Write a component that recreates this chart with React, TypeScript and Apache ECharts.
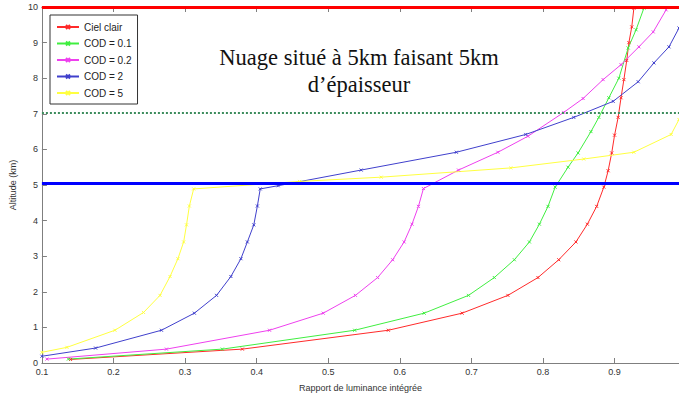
import React, { useEffect, useRef } from "react";
import * as echarts from "echarts";

const seriesNames = ["Ciel clair", "COD = 0.1", "COD = 0.2", "COD = 2", "COD = 5"];

const cielClair: number[][] = [
  [0.14, 0.1], [0.38, 0.39], [0.584, 0.92], [0.687, 1.4], [0.751, 1.9], [0.793, 2.4],
  [0.822, 2.9], [0.846, 3.4], [0.862, 3.9], [0.875, 4.4], [0.885, 4.94], [0.891, 5.4],
  [0.896, 5.9], [0.9, 6.4], [0.905, 6.9], [0.909, 7.45], [0.913, 7.96], [0.917, 8.5],
  [0.92, 9.0], [0.924, 9.44], [0.927, 9.97],
];
const cod01: number[][] = [
  [0.137, 0.11], [0.352, 0.39], [0.537, 0.92], [0.634, 1.4], [0.696, 1.9], [0.732, 2.4],
  [0.76, 2.9], [0.781, 3.4], [0.795, 3.9], [0.807, 4.4], [0.817, 4.94], [0.835, 5.5],
  [0.849, 5.9], [0.867, 6.5], [0.878, 6.9], [0.892, 7.45], [0.906, 8.0], [0.919, 8.85],
  [0.93, 9.36], [0.941, 9.97],
];
const cod02: number[][] = [
  [0.107, 0.11], [0.274, 0.39], [0.418, 0.92], [0.493, 1.4], [0.538, 1.9], [0.569, 2.4],
  [0.59, 2.9], [0.606, 3.4], [0.617, 3.9], [0.626, 4.4], [0.633, 4.9], [0.682, 5.42],
  [0.737, 5.92], [0.779, 6.37], [0.829, 7.04], [0.856, 7.43], [0.884, 7.96], [0.909, 8.38],
  [0.934, 8.88], [0.954, 9.3], [0.972, 9.92],
];
const cod2: number[][] = [
  [0.1, 0.19], [0.175, 0.42], [0.267, 0.92], [0.313, 1.4], [0.344, 1.9], [0.364, 2.43],
  [0.378, 2.93], [0.387, 3.4], [0.396, 3.88], [0.401, 4.41], [0.405, 4.89], [0.43, 4.98],
  [0.546, 5.42], [0.679, 5.92], [0.776, 6.42], [0.843, 6.9], [0.898, 7.35], [0.933, 7.9],
  [0.955, 8.43], [0.976, 8.88], [0.99, 9.41],
];
const cod5: number[][] = [
  [0.1, 0.3], [0.135, 0.44], [0.202, 0.92], [0.242, 1.42], [0.265, 1.9], [0.279, 2.43],
  [0.29, 2.93], [0.298, 3.4], [0.302, 3.88], [0.306, 4.41], [0.312, 4.89], [0.46, 5.1],
  [0.574, 5.22], [0.755, 5.48], [0.857, 5.73], [0.927, 5.92], [0.979, 6.42], [0.99, 6.84],
];

const refAltitudes = [10, 5.05, 7.04];
const refColors = ["#ff0000", "#0000ff", "#3c8c5c"];
const refTypes = ["solid", "solid", "dotted"];
const refWidths = [3, 3, 2];

const curveData = [cielClair, cod01, cod02, cod2, cod5];
const curveColors = ["#ff2a2a", "#40ee40", "#ee40ee", "#4040cc", "#ffff40"];

const titleLines = ["Nuage situé à 5km faisant 5km", "d’épaisseur"];

const markerPath = "path://M0,0L10,10M10,0L0,10";

export default function App() {
  const ref = useRef<HTMLDivElement>(null);
  useEffect(() => {
    if (!ref.current) return;
    const chart = echarts.init(ref.current, undefined, { renderer: "svg" });
    const font = "'Liberation Sans', Arial, sans-serif";
    const serif = "'Liberation Serif', 'Times New Roman', serif";
    const series: any[] = curveData.map((d, i) => ({
      name: seriesNames[i],
      type: "line",
      data: d,
      symbol: markerPath,
      symbolSize: 3,
      showSymbol: true,
      lineStyle: { color: curveColors[i], width: 1 },
      itemStyle: { color: curveColors[i], borderColor: curveColors[i], borderWidth: 1 },
      z: 2,
    }));
    series.push({
      name: "refs",
      type: "line",
      data: [],
      z: 5,
      markLine: {
        silent: true,
        symbol: "none",
        label: { show: false },
        animation: false,
        data: refAltitudes.map((v, i) => ({
          yAxis: v,
          lineStyle: { color: refColors[i], width: refWidths[i], type: refTypes[i] },
        })),
      },
    });
    chart.setOption({
      animation: false,
      backgroundColor: "#ffffff",
      grid: { left: 40, right: 0, top: 7, bottom: 32, containLabel: false },
      legend: {
        data: seriesNames,
        orient: "vertical",
        left: 50,
        top: 15,
        padding: [7, 6, 6, 6],
        itemWidth: 22,
        itemHeight: 5,
        itemGap: 6.5,
        borderColor: "#333333",
        borderWidth: 1,
        backgroundColor: "#ffffff",
        textStyle: { fontFamily: font, fontSize: 10, color: "#222" },
        z: 10,
      },
      xAxis: [
        {
          type: "value",
          min: 0.1,
          max: 0.99,
          interval: 0.1,
          name: "Rapport de luminance intégrée",
          nameLocation: "middle",
          nameGap: 20,
          nameTextStyle: { fontFamily: font, fontSize: 9, color: "#333" },
          axisLine: { lineStyle: { color: "#7f7f7f", width: 1 } },
          axisTick: { inside: true, length: 5, lineStyle: { color: "#7f7f7f" } },
          axisLabel: {
            fontFamily: font,
            fontSize: 9,
            color: "#333",
            margin: 4,
            showMaxLabel: false,
            formatter: (v: number) => (Math.abs(v * 10 - Math.round(v * 10)) < 1e-6 ? v.toFixed(1) : ""),
          },
          splitLine: { show: false },
        },
        {
          type: "value",
          position: "top",
          min: 0.1,
          max: 0.99,
          interval: 0.1,
          axisLine: { lineStyle: { color: "#7f7f7f", width: 1 } },
          axisTick: { inside: true, length: 5, lineStyle: { color: "#7f7f7f" } },
          axisLabel: { show: false },
          splitLine: { show: false },
        },
      ],
      yAxis: {
        type: "value",
        min: 0,
        max: 10,
        interval: 1,
        name: "Altitude (km)",
        nameLocation: "middle",
        nameGap: 17,
        nameTextStyle: { fontFamily: font, fontSize: 9, color: "#333" },
        axisLine: { show: true, lineStyle: { color: "#7f7f7f", width: 1 } },
        axisTick: { show: true, inside: true, length: 5, lineStyle: { color: "#7f7f7f" } },
        axisLabel: { fontFamily: font, fontSize: 9, color: "#333", margin: 4 },
        splitLine: { show: false },
      },
      graphic: titleLines.map((t, i) => ({
        type: "text",
        x: 359,
        y: 57 + i * 27,
        z: 20,
        style: {
          text: t,
          fontFamily: serif,
          fontSize: 22.5,
          fill: "#111",
          align: "center",
          verticalAlign: "middle",
        },
      })),
      series,
    });
    return () => chart.dispose();
  }, []);
  return (
    <div
      ref={ref}
      style={{ position: "fixed", left: 0, top: 0, width: 679, height: 397, background: "#fff" }}
    />
  );
}
